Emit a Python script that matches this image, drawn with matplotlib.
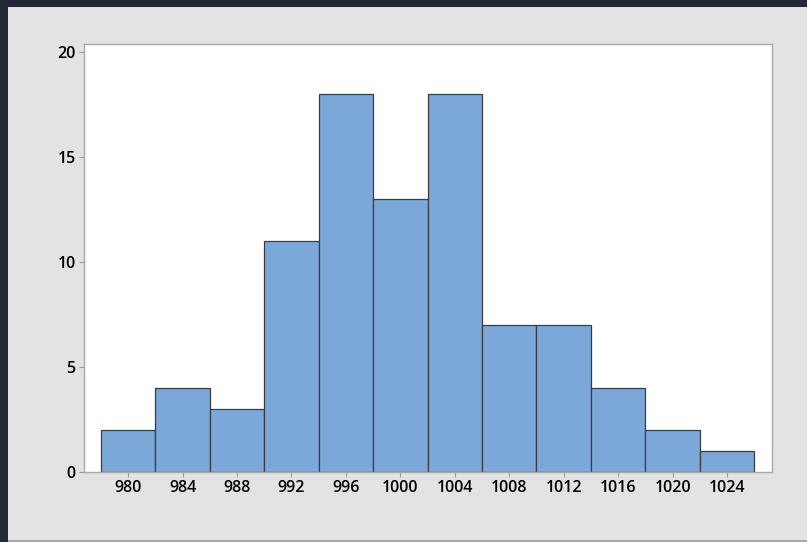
import matplotlib.pyplot as plt
from matplotlib.patches import Rectangle

# histogram data
binEdges = [978, 982, 986, 990, 994, 998, 1002, 1006, 1010, 1014, 1018, 1022, 1026]
counts = [2, 4, 3, 11, 18, 13, 18, 7, 7, 4, 2, 1]
xTicks = [980, 984, 988, 992, 996, 1000, 1004, 1008, 1012, 1016, 1020, 1024]
yTicks = [0, 5, 10, 15, 20]

W, H = 807, 542
plt.rcParams['font.family'] = ['Open Sans', 'DejaVu Sans']

fig = plt.figure(figsize=(W / 100, H / 100), dpi=100)
fig.patch.set_facecolor('#e3e3e3')

# dark frame around the window (top and left strips) and bottom rule
fig.patches.append(Rectangle((0, 1 - 7 / H), 1, 7 / H, transform=fig.transFigure,
                             facecolor='#222836', edgecolor='none'))
fig.patches.append(Rectangle((0, 0), 8 / W, 1, transform=fig.transFigure,
                             facecolor='#222836', edgecolor='none'))
fig.patches.append(Rectangle((8 / W, 0), 1, 2 / H, transform=fig.transFigure,
                             facecolor='#a8a8a8', edgecolor='none'))

left, right, top, bottom = 84, 772, 44, 472
ax = fig.add_axes([left / W, 1 - bottom / H, (right - left) / W, (bottom - top) / H])
ax.set_facecolor('white')

widths = [binEdges[i + 1] - binEdges[i] for i in range(len(counts))]
ax.bar(binEdges[:-1], counts, width=widths, align='edge',
       color='#7ba7d9', edgecolor='#3c3c3c', linewidth=0.9)

ax.set_xlim(976.76, 1027.3)
ax.set_ylim(0, 20.37)
ax.set_xticks(xTicks)
ax.set_yticks(yTicks)
ax.tick_params(axis='both', colors='#9a9a9a', labelcolor='black', labelsize=11.5,
               length=3.5, width=0.8, direction='out', pad=2.5)
for lbl in ax.get_xticklabels() + ax.get_yticklabels():
    lbl.set_fontweight('semibold')

for sp in ax.spines.values():
    sp.set_color('#a8a8a8')
    sp.set_linewidth(1.0)

plt.savefig('out.png', dpi=100, facecolor=fig.get_facecolor())
